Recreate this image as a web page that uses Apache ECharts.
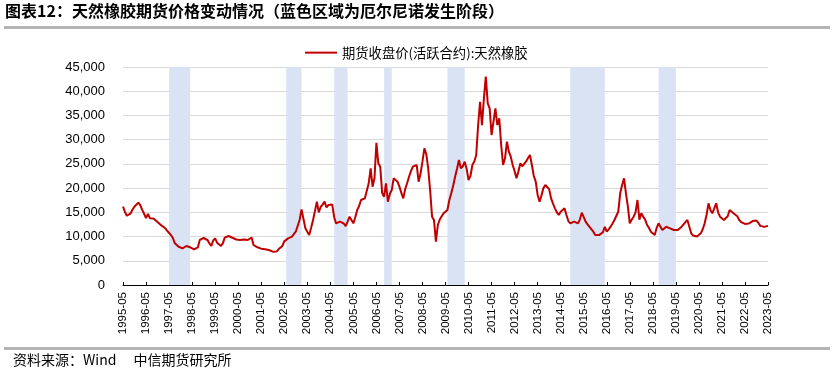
<!DOCTYPE html>
<html>
<head>
<meta charset="utf-8">
<script src="https://cdn.jsdelivr.net/npm/echarts@6/dist/echarts.min.js"></script>
<style>
html,body{margin:0;padding:0;background:#fff;}
#c{width:833px;height:373px;}
</style>
</head>
<body>
<div id="c"></div>
<script>
// Month categories 1995-05 .. 2023-05
const startYear = 1995, startMonth = 5, monthCount = 337;
const categories = [];
for (let k = 0; k < monthCount; k++) {
  const m = startMonth - 1 + k;
  const y = startYear + Math.floor(m / 12);
  const mm = (m % 12) + 1;
  categories.push(y + '-' + (mm < 10 ? '0' + mm : '' + mm));
}

// 期货收盘价(活跃合约):天然橡胶, monthly readings (yuan/ton)
const rubberPrice = [
  16200, 15100, 14300, 14100, 14800, 15600, 16200, 16600, 17000, 16500, 15500, 14700,
  13800, 14700, 13800, 14100, 13700, 13300, 13000, 12600, 12300, 12000, 11700, 11200,
  10800, 10300, 9700, 8600, 8200, 7900, 7780, 7570, 7700, 8050, 7900, 7780,
  7500, 7360, 7500, 7780, 9300, 9630, 9700, 9770, 9290, 8600, 8050, 9200,
  9630, 8740, 8400, 8050, 8600, 9770, 10000, 10110, 9900, 9750, 9630, 9400,
  9150, 9300, 9400, 9400, 9300, 9290, 9400, 9800, 8260, 8000, 7780, 7600,
  7500, 7360, 7400, 7300, 7220, 7000, 6880, 6670, 6900, 7360, 7700, 8050,
  9000, 9290, 9630, 9800, 9970, 10530, 11000, 11350, 13420, 15620, 15830, 11700,
  11000, 10320, 11800, 13420, 15300, 17200, 15000, 16160, 16600, 17200, 16000, 16500,
  16200, 16600, 14000, 12730, 12900, 13070, 13000, 12700, 12170, 13070, 14100, 13400,
  12730, 14000, 15480, 16300, 17540, 17700, 17890, 18240, 21000, 24080, 20290, 22020,
  29370, 25110, 24420, 19000, 18230, 21000, 17200, 18800, 19600, 22020, 21800, 21330,
  20300, 19000, 17890, 19800, 21000, 22350, 23500, 24420, 24600, 24770, 21330, 23000,
  25500, 28200, 27000, 24000, 19500, 14100, 13420, 8940, 12380, 13500, 14200, 14790,
  15200, 15480, 17540, 18920, 20500, 22350, 24000, 25800, 24080, 24500, 25450, 24000,
  21670, 22500, 24770, 25500, 26830, 33020, 37830, 33000, 38530, 43000, 37500, 36470,
  30960, 33710, 36470, 33020, 34400, 28900, 24770, 26150, 29580, 27510, 26500, 24770,
  23500, 22020, 23500, 25120, 24500, 24770, 25500, 26200, 26830, 24770, 22500, 21330,
  18580, 17200, 18500, 20000, 20640, 21000, 19800, 17890, 16800, 15830, 15000, 14450,
  15140, 15500, 15830, 14450, 13200, 12730, 12900, 13070, 12800, 12730, 13500, 14920,
  14000, 13070, 12500, 12000, 11700, 11000, 10300, 9970, 10300, 10670, 10900, 12000,
  11000, 11500, 12030, 12700, 13420, 14300, 15130, 18920, 20640, 22020, 18920, 16160,
  12730, 13500, 14100, 15000, 17540, 13500, 14800, 14100, 13500, 12380, 11800, 11000,
  10700, 10320, 11800, 12730, 12000, 11350, 11600, 12030, 12100, 11700, 11500, 11350,
  11500, 11350, 11700, 12030, 12500, 13000, 13420, 13420, 10670, 10200, 9850, 10000,
  10400, 10670, 11500, 12730, 14500, 16860, 15500, 14800, 15800, 16860, 15000, 14100,
  13800, 13420, 13600, 14200, 15480, 15200, 14800, 14500, 14200, 13420, 13000, 12700,
  12600, 12380, 12700, 13070, 13200, 13420, 13300, 12800, 12200, 11900, 12000, 12100,
  12200
];

// El Niño periods (blue bands)
const ninoStart = ['1997-05', '2002-06', '2004-07', '2006-09', '2009-06', '2014-10', '2018-08'];
const ninoEnd   = ['1998-04', '2003-02', '2005-02', '2007-01', '2010-03', '2016-04', '2019-05'];

const yTicks = { min: 0, max: 45000, interval: 5000 };

const titleText = '图表12：天然橡胶期货价格变动情况（蓝色区域为厄尔尼诺发生阶段）';
const sourceText = '资料来源：Wind　 中信期货研究所';
const seriesName = '期货收盘价(活跃合约):天然橡胶';

const cjk = '"Noto Sans CJK SC", "Noto Sans", sans-serif';
const latin = '"Liberation Sans", Arial, sans-serif';

const chart = echarts.init(document.getElementById('c'), null, { renderer: 'canvas' });
chart.setOption({
  animation: false,
  backgroundColor: '#fff',
  graphic: [
    { type: 'text', left: 5, top: 3, style: { text: titleText, fontSize: 16, fontWeight: 'bold', fontFamily: cjk, fill: '#000' } },
    { type: 'rect', shape: { x: 4, y: 26, width: 826, height: 3 }, style: { fill: '#b4b4b4' } },
    { type: 'rect', shape: { x: 4, y: 347, width: 826, height: 3 }, style: { fill: '#b4b4b4' } },
    { type: 'text', left: 13, top: 353, style: { text: sourceText, fontSize: 14, fontFamily: cjk, fill: '#000' } }
  ],
  legend: {
    data: [seriesName],
    left: 300,
    top: 41,
    icon: 'rect',
    itemWidth: 32,
    itemHeight: 2,
    itemGap: 5,
    textStyle: { fontSize: 13.3, fontFamily: cjk, color: '#000' }
  },
  grid: { left: 123, right: 65, top: 67, bottom: 88, containLabel: false },
  xAxis: {
    type: 'category',
    data: categories,
    boundaryGap: false,
    axisLine: { lineStyle: { color: '#000', width: 1 } },
    axisTick: { show: true, inside: true, length: 3, interval: 11, lineStyle: { color: '#000' } },
    axisLabel: { interval: 11, rotate: 90, margin: 7, fontSize: 11.5, fontFamily: latin, color: '#000' },
    splitLine: { show: false }
  },
  yAxis: {
    type: 'value',
    min: yTicks.min,
    max: yTicks.max,
    interval: yTicks.interval,
    axisLine: { show: false },
    axisTick: { show: false },
    axisLabel: {
      margin: 18, fontSize: 13, fontFamily: latin, color: '#000',
      formatter: v => v.toLocaleString('en-US')
    },
    splitLine: { lineStyle: { color: '#d9d9d9', width: 1 } }
  },
  series: [{
    name: seriesName,
    type: 'line',
    data: rubberPrice,
    symbol: 'none',
    lineStyle: { color: '#c00000', width: 2 },
    itemStyle: { color: '#c00000' },
    markArea: {
      silent: true,
      itemStyle: { color: '#dae3f3' },
      data: ninoStart.map((s, k) => [{ xAxis: s }, { xAxis: ninoEnd[k] }])
    },
    z: 3
  }]
});
</script>
</body>
</html>
